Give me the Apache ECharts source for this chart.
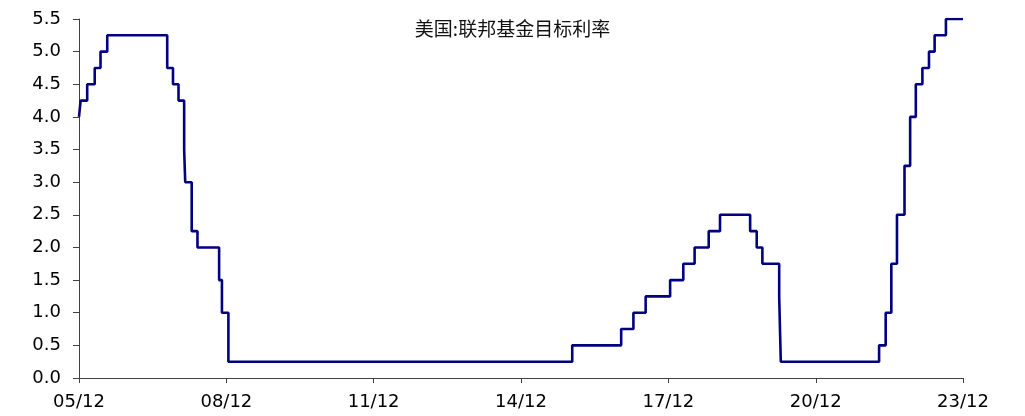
<!DOCTYPE html>
<html>
<head>
<meta charset="utf-8">
<script src="https://cdn.jsdelivr.net/npm/echarts@6/dist/echarts.min.js"></script>
<style>
    html, body { margin: 0; padding: 0; background: #fff; }
    #chart { width: 1025px; height: 416px; }
</style>
</head>
<body>
<div id="chart"></div>
<script>
// 美国:联邦基金目标利率 (上限), 调整日期 -> 利率
var changeDates = [
    '2005-12-01', '2005-12-13', '2006-01-31', '2006-03-28', '2006-05-10', '2006-06-29',
    '2007-09-18', '2007-10-31', '2007-12-11', '2008-01-22', '2008-01-30', '2008-03-18',
    '2008-04-30', '2008-10-08', '2008-10-29', '2008-12-16', '2015-12-17', '2016-12-15',
    '2017-03-16', '2017-06-15', '2017-12-14', '2018-03-22', '2018-06-14', '2018-09-27',
    '2018-12-20', '2019-08-01', '2019-09-19', '2019-10-31', '2020-03-04', '2020-03-16',
    '2022-03-17', '2022-05-05', '2022-06-16', '2022-07-28', '2022-09-22', '2022-11-03',
    '2022-12-15', '2023-02-02', '2023-03-23', '2023-05-04', '2023-07-27', '2023-12-01'
];
var rates = [
    4.00, 4.25, 4.50, 4.75, 5.00, 5.25,
    4.75, 4.50, 4.25, 3.50, 3.00, 2.25,
    2.00, 1.50, 1.00, 0.25, 0.50, 0.75,
    1.00, 1.25, 1.50, 1.75, 2.00, 2.25,
    2.50, 2.25, 2.00, 1.75, 1.25, 0.25,
    0.50, 1.00, 1.75, 2.50, 3.25, 4.00,
    4.50, 4.75, 5.00, 5.25, 5.50, 5.50
];
var tickDates = ['2005-12-01', '2008-12-01', '2011-12-01', '2014-12-01', '2017-12-01', '2020-12-01', '2023-12-01'];
var tickLabels = ['05/12', '08/12', '11/12', '14/12', '17/12', '20/12', '23/12'];

var axisColor = '#404040';
var textFont = 'DejaVu Sans';

function parseDay(s) {
    var p = s.split('-');
    return Date.UTC(+p[0], +p[1] - 1, +p[2]);
}

var tickTimes = tickDates.map(parseDay);
var seriesData = changeDates.map(function (d, i) {
    return [parseDay(d), rates[i]];
});

var chart = echarts.init(document.getElementById('chart'));

var option = {
    animation: false,
    backgroundColor: '#fff',
    title: {
        text: '美国:联邦基金目标利率',
        left: 'center',
        top: 14,
        textStyle: {
            fontFamily: 'Noto Sans CJK SC',
            fontWeight: 'normal',
            fontSize: 19,
            color: '#111'
        }
    },
    grid: {
        left: 79,
        right: 62,
        top: 19,
        bottom: 38
    },
    xAxis: {
        type: 'value',
        min: tickTimes[0],
        max: tickTimes[tickTimes.length - 1],
        axisLine: { lineStyle: { color: axisColor, width: 1 } },
        axisTick: {
            show: true,
            length: 5,
            customValues: tickTimes,
            lineStyle: { color: axisColor }
        },
        axisLabel: {
            customValues: tickTimes,
            margin: 15,
            fontFamily: textFont,
            fontSize: 18,
            color: '#000',
            formatter: function (value) {
                var best = 0;
                for (var i = 1; i < tickTimes.length; i++) {
                    if (Math.abs(tickTimes[i] - value) < Math.abs(tickTimes[best] - value)) best = i;
                }
                return tickLabels[best];
            }
        },
        splitLine: { show: false }
    },
    yAxis: {
        type: 'value',
        min: 0,
        max: 5.5,
        interval: 0.5,
        axisLine: { show: true, lineStyle: { color: axisColor, width: 1 } },
        axisTick: { show: true, length: 6, lineStyle: { color: axisColor } },
        axisLabel: {
            margin: 18,
            fontFamily: textFont,
            fontSize: 18,
            color: '#000',
            formatter: function (v) {
                return v.toFixed(1);
            }
        },
        splitLine: { show: false }
    },
    series: [{
        name: '美国:联邦基金目标利率',
        type: 'line',
        step: 'end',
        data: seriesData,
        symbol: 'none',
        lineStyle: { color: '#000080', width: 2.6 }
    }]
};

chart.setOption(option);
</script>
</body>
</html>
